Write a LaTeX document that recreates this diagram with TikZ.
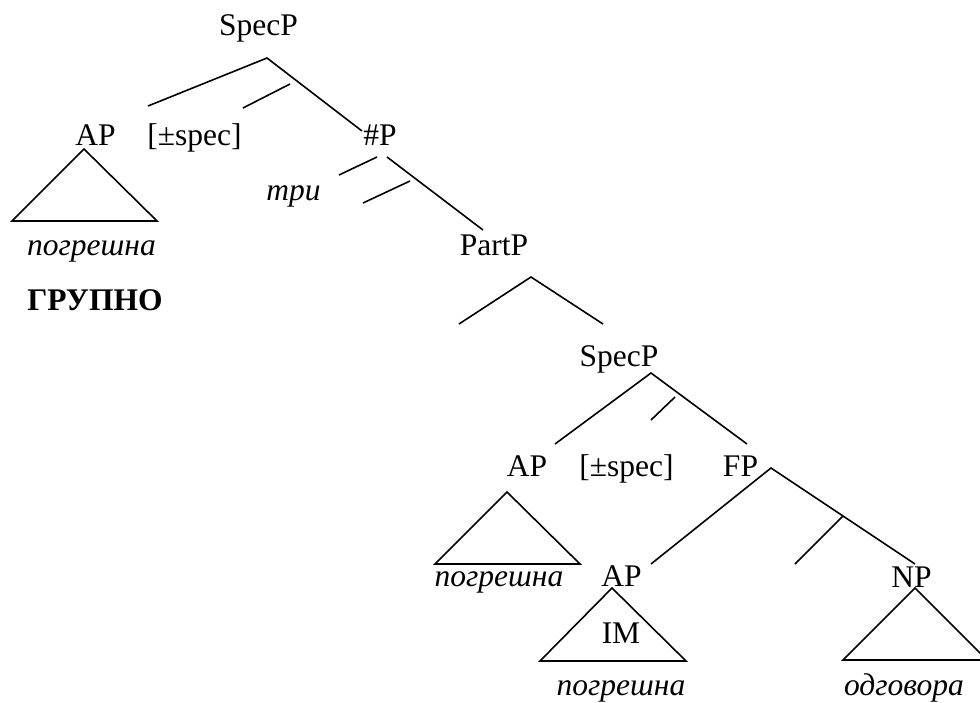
\documentclass[tikz,border=0pt]{standalone}
\usepackage{fontspec}
\setmainfont{Liberation Serif}
\begin{document}
\begin{tikzpicture}[x=1pt,y=-1pt,
  lbl/.style={anchor=base,inner sep=0pt,font=\fontsize{31.5}{36}\selectfont},
  ilbl/.style={lbl,font=\fontsize{31.5}{36}\selectfont\itshape},
  blbl/.style={lbl,font=\fontsize{31.5}{36}\selectfont\bfseries},
  branch/.style={line width=1.6pt,line cap=butt},
  tri/.style={line width=1.6pt,line join=miter}]
\useasboundingbox (0,0) rectangle (980,702);
\clip (0,0) rectangle (980,702);
% labels
\node[lbl] (specA) at (258.5,35) {SpecP};
\node[lbl] (apA) at (95.5,145) {AP};
\node[lbl] (featA) at (194.5,145) {[±spec]};
\node[lbl] (numP) at (380,145) {\#P};
\node[ilbl] (pogA) at (91.5,255) {погрешна};
\node[blbl] (grupno) at (95,310) {ГРУПНО};
\node[ilbl] (tri) at (293.5,200) {три};
\node[lbl] (partP) at (494,255) {PartP};
\node[lbl] (specB) at (619,366) {SpecP};
\node[lbl] (apB) at (527,476) {AP};
\node[lbl] (featB) at (626.5,476) {[±spec]};
\node[lbl] (fP) at (740.5,476) {FP};
\node[ilbl] (pogB) at (499,586) {погрешна};
\node[lbl] (apC) at (621.5,586) {AP};
\node[lbl] (im) at (621,643) {IM};
\node[ilbl] (pogC) at (621,695) {погрешна};
\node[lbl] (nP) at (911.5,587) {NP};
\node[ilbl] (odg) at (904,695) {одговора};
% coordinates
\coordinate (sA) at (267,58);
\coordinate (sAl) at (148,106);
\coordinate (sAr) at (362,131);
\coordinate (sAm1) at (290,84);
\coordinate (sAm2) at (243,108);
\coordinate (tAt) at (84,149);
\coordinate (tAl) at (12,221);
\coordinate (tAr) at (157,221);
\coordinate (nA1) at (377,157);
\coordinate (nA2) at (339,175);
\coordinate (nB1) at (387,157);
\coordinate (nB2) at (483,230);
\coordinate (nC1) at (410,181);
\coordinate (nC2) at (363,203);
\coordinate (pA) at (531,277);
\coordinate (pAl) at (459,324);
\coordinate (pAr) at (603,324);
\coordinate (sB) at (651,373);
\coordinate (sBl) at (555,444);
\coordinate (sBr) at (747,444);
\coordinate (sBm1) at (675,397);
\coordinate (sBm2) at (651,420);
\coordinate (tBt) at (507,492);
\coordinate (tBl) at (435,564);
\coordinate (tBr) at (580,564);
\coordinate (fA) at (771,468);
\coordinate (fAl) at (651,564);
\coordinate (fAr) at (915,564);
\coordinate (fAm1) at (843,516);
\coordinate (fAm2) at (795,564);
\coordinate (tCt) at (612,588);
\coordinate (tCl) at (540,661);
\coordinate (tCr) at (686,661);
\coordinate (tDt) at (915,588);
\coordinate (tDl) at (843,660);
\coordinate (tDr) at (987,660);
% branches
\draw[branch] (sAl) -- (sA) -- (sAr);
\draw[branch] (sAm1) -- (sAm2);
\draw[branch] (nA1) -- (nA2);
\draw[branch] (nB1) -- (nB2);
\draw[branch] (nC1) -- (nC2);
\draw[branch] (pAl) -- (pA) -- (pAr);
\draw[branch] (sBl) -- (sB) -- (sBr);
\draw[branch] (sBm1) -- (sBm2);
\draw[branch] (fAl) -- (fA) -- (fAr);
\draw[branch] (fAm1) -- (fAm2);
% triangles
\draw[tri] (tAt) -- (tAl) -- (tAr) -- cycle;
\draw[tri] (tBt) -- (tBl) -- (tBr) -- cycle;
\draw[tri] (tCt) -- (tCl) -- (tCr) -- cycle;
\draw[tri] (tDt) -- (tDl) -- (tDr) -- cycle;
\end{tikzpicture}
\end{document}
